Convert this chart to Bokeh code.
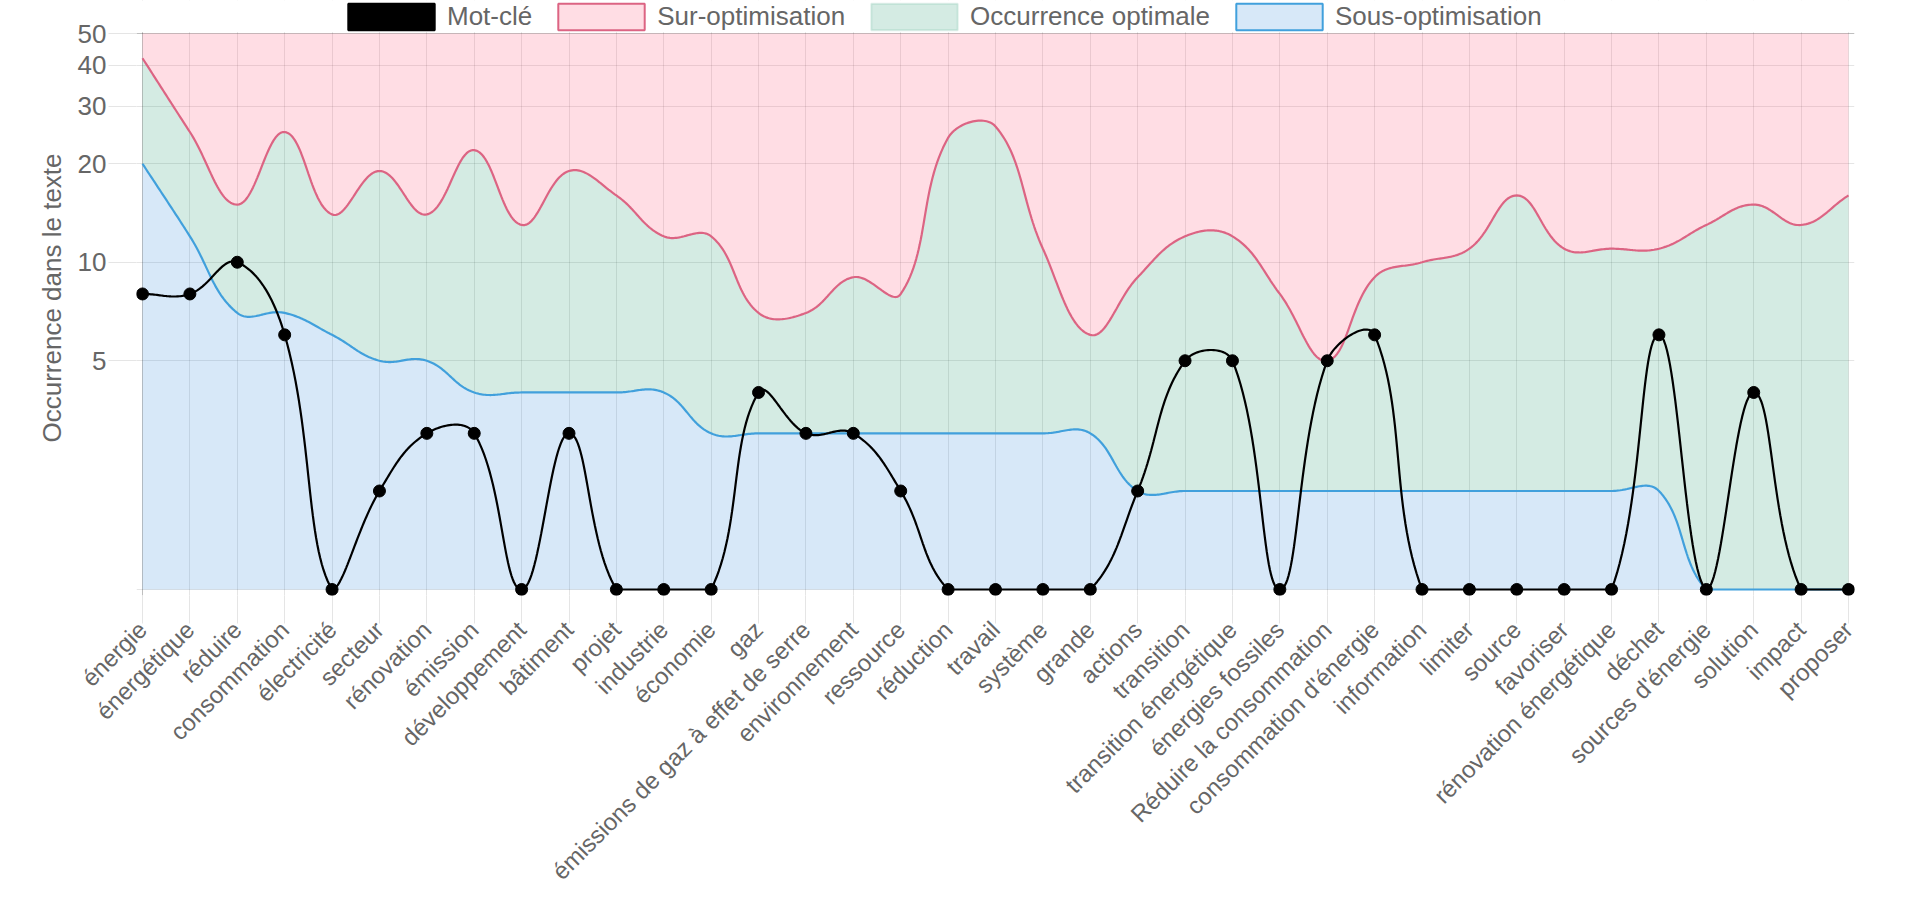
import math
import numpy as np
from bokeh.plotting import figure
from bokeh.models import (Range1d, FixedTicker, Legend, LegendItem, Grid,
                          NumeralTickFormatter)
from bokeh.embed import file_html
from bokeh.resources import INLINE

# ---------------- data ----------------
keywords = ["énergie", "énergétique", "réduire", "consommation", "électricité",
            "secteur", "rénovation", "émission", "développement", "bâtiment",
            "projet", "industrie", "économie", "gaz",
            "émissions de gaz à effet de serre", "environnement", "ressource",
            "réduction", "travail", "système", "grande", "actions", "transition",
            "transition énergétique", "énergies fossiles",
            "Réduire la consommation", "consommation d'énergie", "information",
            "limiter", "source", "favoriser", "rénovation énergétique", "déchet",
            "sources d'énergie", "solution", "impact", "proposer"]
mot_cle = [8, 8, 10, 6, 1, 2, 3, 3, 1, 3, 1, 1, 1, 4, 3, 3, 2, 1, 1, 1, 1, 2,
           5, 5, 1, 5, 6, 1, 1, 1, 1, 1, 6, 1, 4, 1, 1]
sur_optimisation = [42, 25, 15, 25, 14, 19, 14, 22, 13, 19, 16, 12, 12, 7, 7, 9,
                    8, 24, 26, 11, 6, 9, 12, 12, 8, 5, 9, 10, 11, 16, 11, 11, 11,
                    13, 15, 13, 16]
sous_optimisation = [20, 12, 7, 7, 6, 5, 5, 4, 4, 4, 4, 4, 3, 3, 3, 3, 3, 3, 3, 3,
                     3, 2, 2, 2, 2, 2, 2, 2, 2, 2, 2, 2, 2, 1, 1, 1, 1]
y_ticks = [5, 10, 20, 30, 40, 50]
y_min, y_max = 1, 50
legend_labels = ["Mot-clé", "Sur-optimisation", "Occurrence optimale", "Sous-optimisation"]

# ---------------- layout ----------------
W, H = 1920, 904
PAD_PX = 6          # room so that edge markers are not clipped
LEG_H = 33          # band at the top of the frame that holds the legend
BORDER_L, BORDER_R, BORDER_B = 142 - PAD_PX, 72 - PAD_PX, 309
n = len(keywords)
frame_w = W - BORDER_L - BORDER_R
frame_h = H - BORDER_B
XPX = (frame_w - 2 * PAD_PX) / (n - 1)
YPX = (frame_h - LEG_H - PAD_PX) / math.log10(y_max / y_min)
x_pad = PAD_PX / XPX
y_lo = y_min * 10 ** (-PAD_PX / YPX)
y_top = y_max * 10 ** (LEG_H / YPX)

FONT = "Liberation Sans"
TXT = "#666666"
FS = "26px"
FS_X = "24px"


def clamp(v, lo, hi):
    return max(lo, min(hi, v))


def spline(values, tension=0.4, steps=32):
    """Chart.js style bezier spline computed in pixel space."""
    m = len(values)
    px = [i * XPX for i in range(m)]
    py = [math.log10(v / y_min) * YPX for v in values]
    xmax = (m - 1) * XPX
    ymax = math.log10(y_max / y_min) * YPX
    cprev, cnext = [], []
    for i in range(m):
        a, c = max(i - 1, 0), min(i + 1, m - 1)
        d01 = math.hypot(px[i] - px[a], py[i] - py[a])
        d12 = math.hypot(px[c] - px[i], py[c] - py[i])
        tot = d01 + d12
        s01 = d01 / tot if tot else 0.0
        s12 = d12 / tot if tot else 0.0
        fa, fb = tension * s01, tension * s12
        dx, dy = px[c] - px[a], py[c] - py[a]
        cprev.append((clamp(px[i] - fa * dx, 0, xmax), clamp(py[i] - fa * dy, 0, ymax)))
        cnext.append((clamp(px[i] + fb * dx, 0, xmax), clamp(py[i] + fb * dy, 0, ymax)))
    xs, ys = [px[0]], [py[0]]
    t = np.linspace(0, 1, steps + 1)[1:]
    for i in range(m - 1):
        p0, p1, p2, p3 = (px[i], py[i]), cnext[i], cprev[i + 1], (px[i + 1], py[i + 1])
        bx = (1 - t) ** 3 * p0[0] + 3 * (1 - t) ** 2 * t * p1[0] + 3 * (1 - t) * t ** 2 * p2[0] + t ** 3 * p3[0]
        by = (1 - t) ** 3 * p0[1] + 3 * (1 - t) ** 2 * t * p1[1] + 3 * (1 - t) * t ** 2 * p2[1] + t ** 3 * p3[1]
        xs.extend(bx.tolist())
        ys.extend(by.tolist())
    xs = np.array(xs) / XPX
    ys = y_min * 10 ** (np.array(ys) / YPX)
    return xs, ys


xr, yr = spline(sur_optimisation)
xb, yb = spline(sous_optimisation)
xk, yk = spline(mot_cle)

p = figure(width=W, height=H, output_backend="svg", toolbar_location=None,
           x_range=Range1d(-x_pad, n - 1 + x_pad), y_range=Range1d(y_lo, y_top),
           y_axis_type="log", min_border_left=BORDER_L, min_border_right=BORDER_R,
           min_border_top=0, min_border_bottom=BORDER_B)
p.outline_line_color = None
p.background_fill_color = "white"
p.border_fill_color = "white"

RED_LINE = "#dc6483"
BLUE_LINE = "#41a0dc"

# fills
p.varea(x=xr, y1=yr, y2=y_max, fill_color="#ff6384", fill_alpha=0.22)
p.patch(x=np.concatenate([xr, xb[::-1]]), y=np.concatenate([yr, yb[::-1]]),
        fill_color="#289b73", fill_alpha=0.2, line_color=None)
p.varea(x=xb, y1=y_min, y2=yb, fill_color="#368cdc", fill_alpha=0.2)

# white band above the chart area (hosts the legend)
p.varea(x=[-x_pad, n - 1 + x_pad], y1=y_max * 10 ** (1.2 / YPX), y2=y_top,
        fill_color="white", fill_alpha=1.0)

# lines
p.line(xr, yr, line_color=RED_LINE, line_width=2.2)
p.line(xb, yb, line_color=BLUE_LINE, line_width=2.2)
p.line(xk, yk, line_color="black", line_width=2.2)
p.scatter(x=list(range(n)), y=mot_cle, size=12, color="black")

# grids
p.xgrid.ticker = FixedTicker(ticks=list(range(1, n)))
p.xgrid.grid_line_color = "black"
p.xgrid.grid_line_alpha = 0.1
p.ygrid.ticker = FixedTicker(ticks=[y_min] + y_ticks[:-1])
p.ygrid.grid_line_color = "black"
p.ygrid.grid_line_alpha = 0.1
p.add_layout(Grid(dimension=1, ticker=FixedTicker(ticks=[y_max]),
                  grid_line_color="black", grid_line_alpha=0.25))
p.add_layout(Grid(dimension=0, ticker=FixedTicker(ticks=[0]),
                  grid_line_color="black", grid_line_alpha=0.25))

# axes
xa = p.xaxis[0]
xa.ticker = FixedTicker(ticks=list(range(n)))
xa.major_label_overrides = {i: k for i, k in enumerate(keywords)}
xa.major_label_orientation = math.pi / 4
xa.major_label_text_font = FONT
xa.major_label_text_font_size = FS_X
xa.major_label_text_color = TXT
xa.major_tick_line_color = "black"
xa.major_tick_line_alpha = 0.1
xa.major_tick_in = 0
xa.major_tick_out = 22 + PAD_PX
xa.minor_tick_line_color = None
xa.axis_line_color = None
xa.major_label_standoff = 2

ya = p.yaxis[0]
ya.ticker = FixedTicker(ticks=y_ticks)
ya.formatter = NumeralTickFormatter(format="0")
ya.major_label_text_font = FONT
ya.major_label_text_font_size = FS
ya.major_label_text_color = TXT
ya.major_tick_line_color = "black"
ya.major_tick_line_alpha = 0.1
ya.major_tick_in = 0
ya.major_tick_out = 22 + PAD_PX
ya.minor_tick_line_color = None
ya.axis_line_color = None
ya.major_label_standoff = 2
ya.axis_label = "Occurrence dans le texte"
ya.axis_label_text_font = FONT
ya.axis_label_text_font_size = FS
ya.axis_label_text_font_style = "normal"
ya.axis_label_text_color = TXT
ya.axis_label_standoff = 8

# legend swatches: quads whose single row holds NaN, so nothing is drawn in the plot
NAN = [float("nan")]
r_k = p.quad(left=NAN, right=NAN, top=NAN, bottom=NAN, fill_color="black",
             line_color="black", line_width=2)
r_r = p.quad(left=NAN, right=NAN, top=NAN, bottom=NAN, fill_color="#ff6384", fill_alpha=0.22,
             line_color=RED_LINE, line_width=2)
r_g = p.quad(left=NAN, right=NAN, top=NAN, bottom=NAN, fill_color="#289b73", fill_alpha=0.2,
             line_color="#289b73", line_alpha=0.15, line_width=2)
r_b = p.quad(left=NAN, right=NAN, top=NAN, bottom=NAN, fill_color="#368cdc", fill_alpha=0.2,
             line_color=BLUE_LINE, line_width=2)
legend = Legend(items=[LegendItem(label=legend_labels[0], renderers=[r_k]),
                       LegendItem(label=legend_labels[1], renderers=[r_r]),
                       LegendItem(label=legend_labels[2], renderers=[r_g]),
                       LegendItem(label=legend_labels[3], renderers=[r_b])],
                orientation="horizontal", location=(348 - 11 - BORDER_L, frame_h - LEG_H),
                glyph_width=108, glyph_height=LEG_H, label_height=LEG_H, label_standoff=2,
                spacing=15, padding=0, margin=0, border_line_color=None,
                background_fill_alpha=0, label_text_font=FONT, label_text_font_size=FS,
                label_text_color=TXT)
p.add_layout(legend)

open("out.html", "w").write(file_html(p, INLINE))
